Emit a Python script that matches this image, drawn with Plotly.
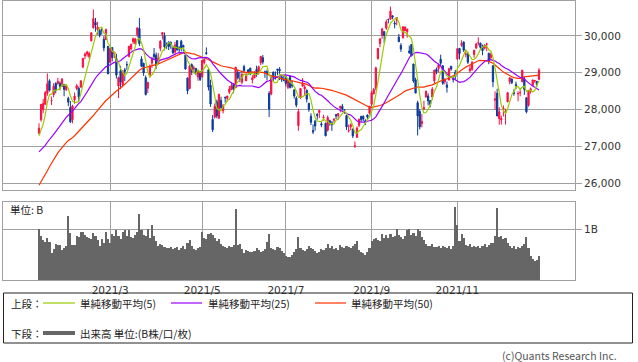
import plotly.graph_objects as go

W, H = 638, 362

# ---------------- data (Nikkei 225 daily, 2021-01-07 .. 2021-12-28) ----------------
month_tick_idx = [34, 78, 118, 159, 200]
month_tick_text = ["2021/3", "2021/5", "2021/7", "2021/9", "2021/11"]
price_ticks = [26000, 27000, 28000, 29000, 30000]

# closes before the first drawn bar (for the moving averages)
prior_close = [23494, 23485, 23418, 23331, 22977,
               23295, 23695, 24105, 24325, 24839, 24905, 25349, 25520, 25385, 25906,
               26014, 25728, 25634, 25527, 26165, 26297, 26537, 26644, 26434,
               26787, 26801, 26809, 26751, 26547, 26467, 26817, 26756, 26652, 26732,
               26687, 26757, 26806, 26763, 26714, 26436, 26524, 26668, 26656, 26854,
               27568, 27444,
               27258, 27158, 27056]

open_ = [
    27340, 27720, 28004, 28140, 28442, 28777, 28238, 28405, 28710, 28710, 28713, 28627, 28680, 28536, 28304, 28053,
    27720, 28263, 28569, 28574, 28609, 29155, 29455, 29506, 29434, 29862, 30218, 30364, 30169, 30143, 30176, 29908, 29897, 29716,
    29275, 29681, 29506, 29379, 28637, 29053, 28664, 29075, 29215, 29442, 29644, 29842, 29789, 30028, 30199, 29373, 29253, 28864, 28576, 28906, 29258, 29501, 29473,
    29254, 29662, 30033, 30001, 29756, 29834, 29825, 29699, 29559, 29867, 29674, 29852, 29738, 29477, 28857, 28570, 29218, 29107, 29112, 28882, 29035,
    28888, 29273, 29542, 29078, 28657, 27731, 27788, 28209, 27762, 28246, 27965, 28325, 28301, 28467, 28536, 28683, 28589, 29013,
    28829, 28737, 29165, 28777, 29072, 29121, 28804, 28856, 29092, 29011, 29270, 29406, 29018, 29032, 28437, 28416, 29010, 28905, 29097, 29090, 28887, 28807,
    28889, 28600, 28894, 28675, 28533, 28307, 27560, 28310, 28630, 28558, 28515, 28167, 27816, 27430, 27679, 27866, 27915, 27608, 27769, 27624,
    27437, 27693, 27634, 27704, 27860, 27832, 28048, 28086, 27992, 27836, 27417, 27528, 27461, 27001, 27242, 27567, 27812, 27813, 27691, 27849, 27895,
    28141, 28421, 28577, 29384, 29788, 30013, 30119, 30209, 30448, 30450, 30543, 30346, 30419, 29965, 29740, 29951, 30139, 30111, 29588, 29762,
    29235, 28806, 28183, 27944, 27612, 28013, 28339, 28366, 28239, 28337, 28778, 29090, 29112, 29366, 29184, 28753, 28666, 28797, 29174, 28849, 29012,
    29372, 29659, 29746, 29831, 29504, 29513, 29049, 29089, 29493, 29665, 29807, 29804, 29691, 29664, 29773, 29528, 29408, 29190, 28252, 28441,
    27754, 27716, 28012, 27913, 28206, 28757, 28825, 28461, 28679, 28421, 28459, 28748, 28823, 28317, 28114, 28502, 28648, 28776, 28763, 28815,
]
high = [
    27624, 28139, 28287, 28503, 28979, 28820, 28349, 28711, 28738, 28860, 28761, 28853, 28685, 28673, 28346, 28228,
    28127, 28460, 28688, 28626, 28779, 29388, 29545, 29592, 29570, 30084, 30714, 30485, 30380, 30188, 30200, 29989, 30200, 29722,
    29663, 29686, 29559, 29512, 28891, 29185, 29062, 29128, 29306, 29717, 29787, 29951, 29944, 30216, 30485, 29446, 29270, 28922, 28756, 29223, 29432, 29670, 29547,
    29537, 29883, 30089, 30091, 29816, 29849, 29842, 29730, 29835, 29883, 29719, 29891, 29756, 29483, 28862, 29216, 29250, 29192, 29130, 29076, 29036,
    29331, 29381, 29685, 29100, 28808, 27847, 28163, 28266, 28433, 28346, 28146, 28354, 28367, 28636, 28734, 28718, 29149, 29083,
    29020, 29062, 29213, 29009, 29099, 29134, 28929, 29033, 29187, 29190, 29441, 29480, 29056, 29082, 28496, 28884, 29034, 29031, 29097, 29150, 28918, 28940,
    28891, 28841, 28925, 28785, 28533, 28355, 28019, 28577, 28852, 28668, 28547, 28167, 27896, 27592, 27716, 27898, 27993, 27691, 27853, 27639,
    27834, 27721, 27685, 27771, 27872, 27888, 28106, 28152, 28011, 27857, 27586, 27624, 27484, 27129, 27537, 27750, 27826, 27839, 27737, 27862, 28089,
    28505, 28586, 29161, 29662, 29938, 30219, 30119, 30438, 30452, 30795, 30560, 30412, 30500, 30051, 29800, 30248, 30252, 30183, 29733, 29776,
    29235, 28862, 28236, 28005, 27878, 28234, 28504, 28436, 28240, 28606, 29075, 29138, 29254, 29489, 29203, 28851, 28760, 29135, 29174, 28890, 29075,
    29666, 29659, 29880, 29847, 29622, 29565, 29212, 29316, 29612, 29808, 29960, 29808, 29762, 29774, 29814, 29528, 29545, 29190, 28491, 28562,
    28059, 27831, 28109, 28016, 28464, 28868, 28843, 28546, 28757, 28498, 28587, 29070, 28883, 28317, 28529, 28596, 28807, 28803, 28775, 29121,
]
low = [
    27340, 27667, 27899, 28128, 28371, 28486, 28119, 28331, 28440, 28671, 28520, 28627, 28357, 28499, 28088, 27629,
    27625, 28152, 28524, 28215, 28587, 29116, 29367, 29434, 29368, 29850, 30194, 30111, 30030, 29957, 30033, 29576, 29896, 28966,
    29275, 29304, 29388, 28842, 28308, 28551, 28600, 28773, 29079, 29412, 29601, 29776, 29755, 29960, 29722, 29150, 28911, 28379, 28444, 28865, 29131, 29356, 29093,
    29239, 29581, 29900, 29604, 29646, 29613, 29649, 29511, 29468, 29593, 29531, 29576, 29574, 29080, 28415, 28546, 28933, 28993, 28929, 28779, 28770,
    28860, 29222, 29487, 28515, 28070, 27385, 27754, 27760, 27743, 28023, 27891, 28185, 28215, 28418, 28536, 28440, 28587, 28812,
    28743, 28685, 28999, 28774, 28932, 28930, 28706, 28856, 28887, 28941, 29203, 29225, 28858, 28793, 27795, 28384, 28764, 28810, 28930, 28798, 28749, 28765,
    28628, 28553, 28569, 28586, 28295, 28058, 27419, 28282, 28630, 28367, 28185, 27938, 27577, 27330, 27423, 27723, 27766, 27519, 27699, 27272,
    27399, 27557, 27417, 27637, 27740, 27717, 27921, 27969, 27884, 27438, 27372, 27435, 27223, 26954, 27223, 27516, 27661, 27683, 27577, 27719, 27860,
    28089, 28421, 28523, 29349, 29689, 29916, 29809, 30165, 30338, 30450, 30452, 30204, 30287, 29838, 29562, 29919, 30133, 29951, 29508, 29452,
    28725, 28444, 27293, 27457, 27513, 27990, 28318, 28112, 28058, 28267, 28718, 28955, 29000, 29180, 28667, 28679, 28457, 28797, 29050, 28731, 28807,
    29343, 29358, 29700, 29560, 29413, 29235, 28998, 29047, 29405, 29654, 29738, 29628, 29471, 29633, 29580, 29229, 29348, 28605, 27989, 27821,
    27587, 27586, 27809, 27588, 28197, 28682, 28690, 28373, 28546, 28221, 28356, 28748, 28396, 27893, 28075, 28430, 28636, 28720, 28620, 28815,
]
close = [
    27490, 28139, 28164, 28456, 28698, 28519, 28242, 28633, 28523, 28757, 28631, 28822, 28546, 28635, 28197, 27663,
    28091, 28362, 28646, 28341, 28779, 29388, 29505, 29562, 29520, 30084, 30467, 30292, 30236, 30017, 30156, 29671, 30168, 28966,
    29663, 29408, 29559, 28930, 28864, 28743, 29028, 29036, 29212, 29717, 29766, 29921, 29914, 30216, 29792, 29174, 28995, 28405, 28729, 29176, 29384, 29432, 29178,
    29388, 29854, 30089, 29696, 29730, 29708, 29768, 29538, 29751, 29620, 29642, 29683, 29685, 29100, 28508, 29188, 29020, 29126, 28991, 29053, 28812,
    29331, 29357, 29518, 28608, 28147, 27448, 28084, 27824, 28406, 28044, 28098, 28317, 28364, 28553, 28642, 28549, 29149, 28860,
    28814, 28946, 29058, 28941, 29019, 28963, 28860, 28958, 28948, 29161, 29441, 29291, 29018, 28964, 28010, 28884, 28874, 28875, 29066, 29048, 28812, 28791,
    28707, 28783, 28598, 28643, 28366, 28118, 27940, 28569, 28718, 28608, 28279, 28003, 27652, 27388, 27548, 27833, 27970, 27581, 27782, 27283,
    27781, 27641, 27584, 27728, 27820, 27888, 28070, 28015, 27977, 27523, 27424, 27585, 27281, 27013, 27494, 27732, 27724, 27742, 27641, 27789, 28089,
    28451, 28543, 29128, 29659, 29916, 30181, 30008, 30381, 30447, 30670, 30511, 30323, 30500, 29839, 29639, 30248, 30240, 30183, 29544, 29452,
    28771, 28444, 27822, 27528, 27678, 28048, 28498, 28230, 28140, 28550, 29068, 29025, 29215, 29255, 28708, 28804, 28600, 29106, 29098, 28820, 28892,
    29647, 29520, 29794, 29611, 29507, 29285, 29106, 29277, 29610, 29776, 29808, 29688, 29598, 29745, 29774, 29302, 29499, 28751, 28283, 27821,
    27935, 27753, 28029, 27927, 28455, 28860, 28725, 28437, 28640, 28432, 28459, 29066, 28545, 27937, 28517, 28562, 28798, 28782, 28676, 29069,
]
# volume in billions of shares
volume_b = [
    1.00, 0.86, 0.79, 0.74, 0.82, 0.75, 0.52, 0.60, 0.71, 0.69, 0.68, 0.58, 0.63, 0.66, 1.26, 0.92,
    0.68, 0.68, 0.86, 0.84, 0.94, 0.94, 0.89, 0.84, 0.82, 0.80, 0.92, 0.86, 0.79, 0.66, 0.80, 0.73, 0.94, 0.80,
    0.72, 0.91, 0.86, 0.98, 0.86, 0.80, 0.94, 0.98, 0.87, 0.98, 0.85, 0.82, 0.88, 0.95, 1.30, 0.99, 0.89, 0.86, 1.00, 0.82, 1.08, 0.86, 0.76,
    0.66, 0.70, 0.68, 0.64, 0.63, 0.62, 0.65, 0.60, 0.62, 0.64, 0.58, 0.62, 0.66, 0.60, 0.72, 0.78, 0.66, 0.60, 0.58, 0.62, 0.64,
    0.95, 0.82, 0.80, 0.90, 0.92, 0.88, 0.82, 0.76, 0.80, 0.70, 0.66, 0.65, 0.62, 0.66, 0.64, 0.68, 1.40, 0.68,
    0.70, 0.60, 0.53, 0.58, 0.56, 0.54, 0.55, 0.56, 0.62, 0.58, 0.55, 0.56, 0.60, 0.75, 0.91, 0.62, 0.60, 0.58, 0.64, 0.62, 0.56, 0.53,
    0.47, 0.46, 0.45, 0.50, 0.55, 0.60, 0.84, 0.62, 0.58, 0.56, 0.60, 0.66, 0.62, 0.60, 0.56, 0.52, 0.55, 0.60, 0.58, 0.62,
    0.71, 0.62, 0.66, 0.60, 0.62, 0.58, 0.68, 0.64, 0.62, 0.66, 0.65, 0.63, 0.66, 0.70, 0.77, 0.58, 0.54, 0.52, 0.50, 0.55, 0.62,
    0.77, 0.80, 0.82, 0.78, 0.76, 0.90, 0.82, 0.88, 0.82, 0.90, 0.84, 0.86, 1.00, 0.88, 0.85, 0.80, 0.86, 0.99, 1.00, 0.88,
    0.92, 0.86, 1.00, 0.96, 0.85, 0.78, 0.70, 0.67, 0.66, 0.70, 0.65, 0.64, 0.66, 0.62, 0.66, 0.64, 0.62, 0.66, 0.60, 0.66, 1.44,
    1.07, 0.76, 0.90, 0.82, 0.68, 0.66, 0.70, 0.64, 0.66, 0.65, 0.66, 0.63, 0.66, 0.70, 0.64, 0.68, 0.72, 0.72, 0.87, 1.42,
    0.85, 0.86, 0.80, 0.82, 0.72, 0.66, 0.62, 0.66, 0.60, 0.64, 0.62, 0.66, 0.70, 0.84, 0.62, 0.48, 0.42, 0.38, 0.40, 0.48,
]

N = len(close)
assert len(open_) == N and len(high) == N and len(low) == N and len(volume_b) == N
idx = list(range(N))

all_close = prior_close + close
def sma(n):
    out = []
    for i in range(N):
        j = len(prior_close) + i
        out.append(sum(all_close[j - n + 1:j + 1]) / n)
    return out

ma5, ma25, ma50 = sma(5), sma(25), sma(50)

# ---------------- style ----------------
RED = "#fb0f44"
BLUE = "#0a3a9c"
C5, C25, C50 = "#99cc00", "#9a00ff", "#ff3300"
GRID = "#a0a0a0"
TXT = "#333333"
NUMFONT = dict(family="DejaVu Sans", size=10.5, color=TXT)
JPFONT = dict(family="Noto Sans CJK JP", size=10.5, color="#222222")

def px(x):
    return x / W

def py(y):
    return 1 - y / H

XR = [(3 - 39) / 2.092, (575 - 39) / 2.092]

fig = go.Figure()
fig.add_trace(go.Candlestick(
    x=idx, open=open_, high=high, low=low, close=close,
    increasing=dict(line=dict(color=RED, width=1), fillcolor=RED),
    decreasing=dict(line=dict(color=BLUE, width=1), fillcolor=BLUE),
    whiskerwidth=0, showlegend=False, hoverinfo="skip",
    xaxis="x", yaxis="y"))
for ys, col in ((ma50, C50), (ma25, C25), (ma5, C5)):
    fig.add_trace(go.Scatter(x=idx, y=ys, mode="lines", line=dict(color=col, width=1.2),
                             showlegend=False, hoverinfo="skip", xaxis="x", yaxis="y"))
fig.add_trace(go.Bar(x=idx, y=volume_b, width=1.0, marker=dict(color="#666666", line=dict(width=0)),
                     showlegend=False, hoverinfo="skip", xaxis="x2", yaxis="y2"))

axis_common = dict(showgrid=True, gridcolor=GRID, gridwidth=1, showline=True, linecolor=GRID,
                   linewidth=1, mirror=True, zeroline=False, fixedrange=True)

fig.update_layout(
    width=W, height=H, margin=dict(l=0, r=0, t=0, b=0),
    paper_bgcolor="white", plot_bgcolor="white", showlegend=False,
    bargap=0, boxgap=0.15,
    xaxis=dict(domain=[px(3), px(575)], range=XR, anchor="y", tickmode="array",
               tickvals=month_tick_idx, showticklabels=False, ticks="",
               rangeslider=dict(visible=False), **axis_common),
    yaxis=dict(domain=[py(190), py(1)], range=[25811, 30946], anchor="x", side="right",
               tickmode="array", tickvals=price_ticks, tickformat=",d", ticks="outside",
               ticklen=6, tickcolor=GRID, tickfont=NUMFONT, **axis_common),
    xaxis2=dict(domain=[px(3), px(575)], range=XR, anchor="y2", tickmode="array",
                tickvals=month_tick_idx, ticktext=month_tick_text, ticks="",
                tickfont=NUMFONT, **axis_common),
    yaxis2=dict(domain=[py(280), py(202)], range=[0, 1.53], anchor="x2", side="right",
                tickmode="array", tickvals=[1], ticktext=["1B"], ticks="outside",
                ticklen=6, tickcolor=GRID, tickfont=NUMFONT, **axis_common),
)

ann = []
def text(x, y, s, font=JPFONT, xanchor="left"):
    ann.append(dict(x=px(x), y=py(y), xref="paper", yref="paper", text=s, showarrow=False,
                    xanchor=xanchor, yanchor="middle", font=font))

text(8, 209, "単位: B")
text(9, 303, "上段：")
text(78, 303, "単純移動平均(5)")
text(206, 303, "単純移動平均(25)")
text(349, 303, "単純移動平均(50)")
text(9, 333, "下段：")
text(78, 333, "出来高 単位:(B株/口/枚)")
text(619, 355, "(c)Quants Research Inc.", font=dict(family="Noto Sans CJK JP", size=10.5, color="#555555"),
     xanchor="right")
fig.update_layout(annotations=ann)

shapes = [
    dict(type="rect", xref="paper", yref="paper", x0=px(3.5), x1=px(632.5), y0=py(343), y1=py(293),
         line=dict(color="#222222", width=1), fillcolor="rgba(0,0,0,0)"),
]
for x0, x1, y, col, w in ((43, 75, 303, C5, 1.2), (171, 202, 303, C25, 1.2), (315, 346, 303, C50, 1.2),
                          (43, 75, 333, "#666666", 4)):
    shapes.append(dict(type="line", xref="paper", yref="paper", x0=px(x0), x1=px(x1), y0=py(y), y1=py(y),
                       line=dict(color=col, width=w)))
fig.update_layout(shapes=shapes)

fig.write_html("out.html",
               config={"displayModeBar": False},
               post_script="document.body.style.margin='0';document.body.style.padding='0';"
                           "document.body.style.overflow='hidden';")
